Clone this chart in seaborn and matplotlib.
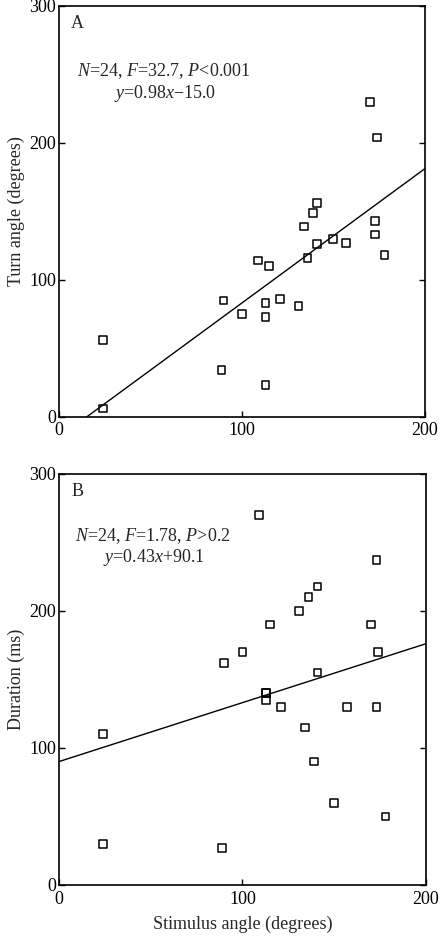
import numpy as np
import pandas as pd
import matplotlib
matplotlib.use("Agg")
import matplotlib.pyplot as plt
import seaborn as sns

# stimulus angle (degrees)
stim_a = [24, 24, 89, 90, 100, 109, 115, 113, 113, 113, 121, 131, 134, 136,
          139, 141, 141, 150, 157, 170, 174, 173, 173, 178]
turn_a = [56, 6, 34, 85, 75, 114, 110, 83, 73, 23, 86, 81, 139, 116,
          149, 156, 126, 130, 127, 230, 204, 143, 133, 118]

stim_b = [24, 24, 89, 90, 100, 109, 115, 113, 113, 113, 121, 131, 134, 136,
          139, 141, 141, 150, 157, 170, 173, 174, 173, 178]
dur_b = [110, 30, 27, 162, 170, 270, 190, 140, 135, 140, 130, 200, 115, 210,
         90, 218, 155, 60, 130, 190, 237, 170, 130, 50]

# fitted lines given in the figure
fit_a = (0.98, -15.0)
fit_b = (0.43, 90.1)

sns.set_theme(style="white")
plt.rcParams["font.family"] = ["Liberation Serif", "DejaVu Serif"]
plt.rcParams["mathtext.fontset"] = "custom"
plt.rcParams["mathtext.rm"] = "Liberation Serif"
plt.rcParams["mathtext.it"] = "Liberation Serif:italic"

fig = plt.figure(figsize=(4.42, 9.36), dpi=100)
ax_a = fig.add_axes([0.1335, 0.5548, 0.827, 0.4388])
ax_b = fig.add_axes([0.1335, 0.0545, 0.830, 0.4391])


def draw_panel(ax, xs, ys, fit, letter, stats, eq, txt_pos, ylabel, xlabel=None):
    df = pd.DataFrame({"x": xs, "y": ys})
    sns.scatterplot(data=df, x="x", y="y", ax=ax, marker="s", s=30,
                    facecolor="none", edgecolor="black", linewidth=1.1)
    slope, icpt = fit
    x0 = -icpt / slope if icpt < 0 else 0.0
    line = pd.DataFrame({"x": [x0, 200.0]})
    line["y"] = slope * line["x"] + icpt
    sns.lineplot(data=line, x="x", y="y", ax=ax, color="black", linewidth=1.0)
    ax.set_xlim(0, 200)
    ax.set_ylim(0, 300)
    ax.set_xticks([0, 100, 200])
    ax.set_yticks([0, 100, 200, 300])
    ax.tick_params(axis="both", direction="in", length=4, width=1,
                   labelsize=13, left=True, bottom=True, right=True, top=False,
                   pad=4, colors="black")
    ax.tick_params(axis="y", pad=2)
    for sp in ax.spines.values():
        sp.set_visible(True)
        sp.set_color("black")
        sp.set_linewidth(1.2)
    ax.set_ylabel(ylabel, fontsize=13, labelpad=3)
    ax.set_xlabel(xlabel if xlabel else "", fontsize=13, labelpad=6)
    ax.text(0.033, 0.978, letter, transform=ax.transAxes, fontsize=13,
            va="top", ha="left")
    (sx, sy), (ex, ey) = txt_pos
    ax.text(sx, sy, stats, transform=ax.transAxes, fontsize=13,
            va="center", ha="left")
    ax.text(ex, ey, eq, transform=ax.transAxes, fontsize=13,
            va="center", ha="left")


draw_panel(ax_a, stim_a, turn_a, fit_a, "A",
           r"$\mathit{N}$=24, $\mathit{F}$=32.7, $\mathit{P}$<0.001",
           r"$\mathit{y}$=0.98$\mathit{x}$$-$15.0",
           ((0.050, 0.842), (0.150, 0.787)),
           "Turn angle (degrees)")
draw_panel(ax_b, stim_b, dur_b, fit_b, "B",
           r"$\mathit{N}$=24, $\mathit{F}$=1.78, $\mathit{P}$>0.2",
           r"$\mathit{y}$=0.43$\mathit{x}$+90.1",
           ((0.044, 0.850), (0.121, 0.797)),
           "Duration (ms)", "Stimulus angle (degrees)")

fig.savefig("out.png", dpi=100)
